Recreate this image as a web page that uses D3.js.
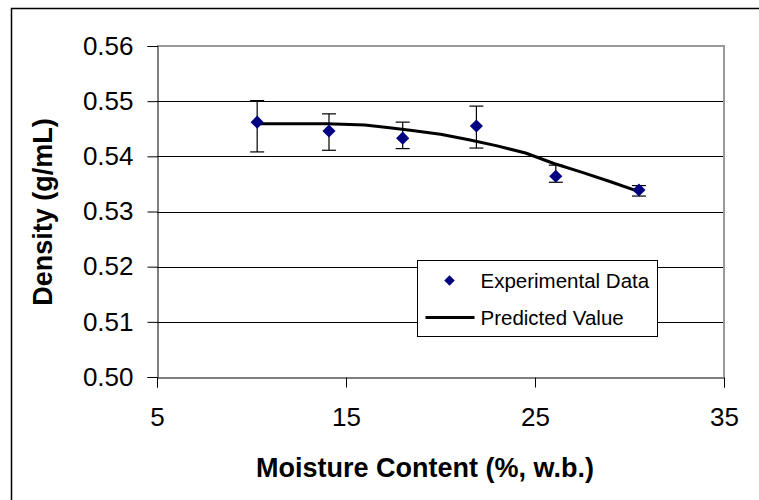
<!DOCTYPE html>
<html>
<head>
<meta charset="utf-8">
<script src="https://cdn.jsdelivr.net/npm/d3@7"></script>
<style>
  body { margin: 0; background: #fff; }
  text { font-family: "Liberation Sans", Arial, sans-serif; fill: #000; }
  .tick-label { font-size: 26px; }
  .axis-title { font-size: 27px; font-weight: bold; }
  .legend { font-size: 20.5px; }
</style>
</head>
<body>
<script>
// Measured points (moisture %, density g/mL) with error bar ends
const moisture = [10.3, 14.1, 18.0, 21.9, 26.1, 30.5];
const density = [0.5462, 0.5446, 0.5433, 0.5455, 0.5364, 0.5339];
const errHigh = [0.5501, 0.5477, 0.5462, 0.5491, 0.5384, 0.5347];
const errLow = [0.5408, 0.5411, 0.5414, 0.5415, 0.5353, 0.5328];

// Predicted value curve
const predX = [10.3, 12, 14, 16, 17.3, 18.5, 20, 21.5, 23, 24.5, 26, 27.5, 29, 30.5];
const predY = [0.5459, 0.5459, 0.5459, 0.5457, 0.5452, 0.5447, 0.5440, 0.5430, 0.5419, 0.5406, 0.5387, 0.5371, 0.5354, 0.5336];

const xTicks = [5, 15, 25, 35];
const yTicks = [0.50, 0.51, 0.52, 0.53, 0.54, 0.55, 0.56];

const width = 759;
const height = 500;
const margin = { top: 46, right: 35, bottom: 123, left: 157 };

const svg = d3.select("body")
    .append("svg")
    .attr("width", width)
    .attr("height", height);

// outer frame of the chart object
svg.append("rect")
    .attr("x", 11.5)
    .attr("y", 8.5)
    .attr("width", 760)
    .attr("height", 500)
    .attr("fill", "none")
    .attr("stroke", "#000")
    .attr("stroke-width", 1.5);

const x = d3.scaleLinear()
    .domain([5, 35])
    .range([margin.left, width - margin.right]);
const y = d3.scaleLinear()
    .domain([0.50, 0.56])
    .range([height - margin.bottom, margin.top]);

// gridlines
svg.append("g")
    .selectAll("line")
    .data(yTicks.slice(1, -1))
    .join("line")
    .attr("x1", x(5))
    .attr("x2", x(35))
    .attr("y1", d => Math.round(y(d)) + 0.5)
    .attr("y2", d => Math.round(y(d)) + 0.5)
    .attr("stroke", "#000")
    .attr("stroke-width", 1);

// plot area border (top / right, grey)
svg.append("path")
    .attr("d", `M${x(5)},${y(0.56)}H${x(35)}V${y(0.50)}`)
    .attr("fill", "none")
    .attr("stroke", "#999")
    .attr("stroke-width", 2);

// axes
const xAxis = svg.append("g")
    .attr("transform", `translate(0,${Math.round(y(0.50)) + 0.5})`)
    .call(d3.axisBottom(x).tickValues(xTicks).tickSize(10).tickPadding(20).tickFormat(d3.format("d")));
const yAxis = svg.append("g")
    .attr("transform", `translate(${Math.round(x(5)) + 0.5},0)`)
    .call(d3.axisLeft(y).tickValues(yTicks).tickSize(10).tickPadding(14).tickFormat(d3.format(".2f")));

[xAxis, yAxis].forEach(g => {
    g.select(".domain").attr("stroke", "#000");
    g.selectAll(".tick line").attr("stroke", "#000");
    g.selectAll(".tick text")
        .attr("class", "tick-label")
        .attr("fill", "#000")
        .attr("font-size", null)
        .attr("font-family", null);
    g.attr("font-size", null).attr("font-family", null);
});

// axis titles
svg.append("text")
    .attr("class", "axis-title")
    .attr("x", 425)
    .attr("y", 477)
    .attr("text-anchor", "middle")
    .text("Moisture Content (%, w.b.)");

svg.append("text")
    .attr("class", "axis-title")
    .attr("transform", `translate(52,212) rotate(-90)`)
    .attr("text-anchor", "middle")
    .text("Density (g/mL)");

// predicted curve
const line = d3.line()
    .x((d, i) => x(predX[i]))
    .y(d => y(d));

svg.append("path")
    .datum(predY)
    .attr("fill", "none")
    .attr("stroke", "#000")
    .attr("stroke-width", 3)
    .attr("stroke-linejoin", "round")
    .attr("d", line);

// error bars
const bars = svg.append("g").attr("stroke", "#000").attr("stroke-width", 1.2);
moisture.forEach((m, i) => {
    const cx = x(m);
    bars.append("line")
        .attr("x1", cx).attr("x2", cx)
        .attr("y1", y(errHigh[i])).attr("y2", y(errLow[i]));
    [errHigh[i], errLow[i]].forEach(v => {
        bars.append("line")
            .attr("x1", cx - 7).attr("x2", cx + 7)
            .attr("y1", y(v)).attr("y2", y(v));
    });
});

// experimental diamonds
const diamond = d3.symbol().type(d3.symbolDiamond2).size(110);
svg.append("g")
    .selectAll("path")
    .data(density)
    .join("path")
    .attr("transform", (d, i) => `translate(${x(moisture[i])},${y(d)})`)
    .attr("d", diamond)
    .attr("fill", "#000080");

// legend
const legend = svg.append("g").attr("transform", "translate(417.5,260.5)");
legend.append("rect")
    .attr("width", 240)
    .attr("height", 76)
    .attr("fill", "#fff")
    .attr("stroke", "#000")
    .attr("stroke-width", 1);
legend.append("path")
    .attr("transform", "translate(32,20)")
    .attr("d", d3.symbol().type(d3.symbolDiamond2).size(70))
    .attr("fill", "#000080");
legend.append("text")
    .attr("class", "legend")
    .attr("x", 63)
    .attr("y", 27)
    .text("Experimental Data");
legend.append("line")
    .attr("x1", 8).attr("x2", 57)
    .attr("y1", 57).attr("y2", 57)
    .attr("stroke", "#000")
    .attr("stroke-width", 3);
legend.append("text")
    .attr("class", "legend")
    .attr("x", 63)
    .attr("y", 64)
    .text("Predicted Value");
</script>
</body>
</html>
